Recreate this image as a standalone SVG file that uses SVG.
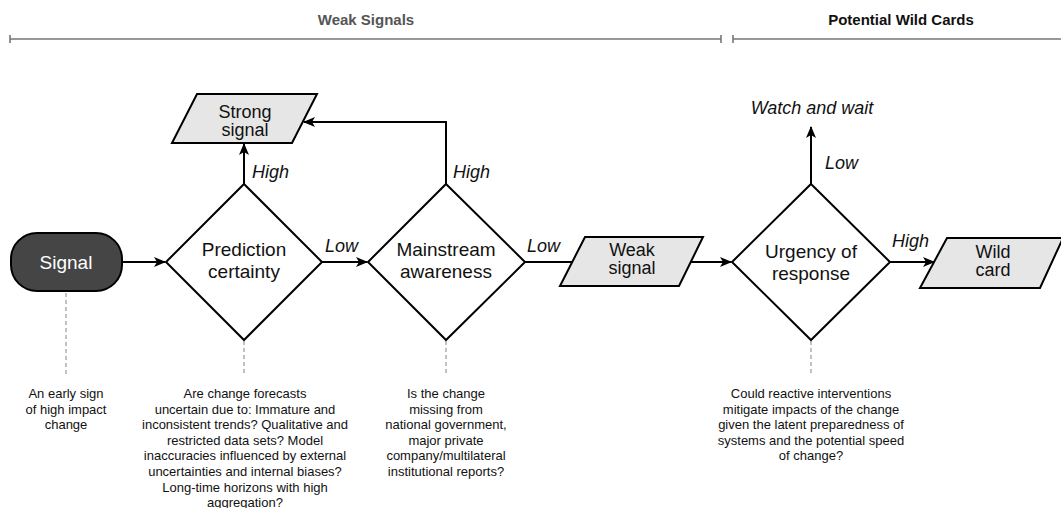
<svg xmlns="http://www.w3.org/2000/svg" width="1061" height="508" viewBox="0 0 1061 508">
<style>
.bg{fill:#fff}
.dia{fill:#fff;stroke:#000;stroke-width:2}
.para{fill:#e6e6e6;stroke:#000;stroke-width:2}
.lbl{font-family:"Liberation Sans",Arial,sans-serif;font-size:19px;fill:#111;text-anchor:middle}
.plbl{font-family:"Liberation Sans",Arial,sans-serif;font-size:18px;fill:#111;text-anchor:middle}
.it{font-family:"Liberation Sans",Arial,sans-serif;font-size:18px;font-style:italic;fill:#111}
.note{font-family:"Liberation Sans",Arial,sans-serif;font-size:13px;fill:#111;text-anchor:middle}
.hdr{font-family:"Liberation Sans",Arial,sans-serif;font-size:15px;font-weight:bold;text-anchor:middle}
.conn{fill:none;stroke:#000;stroke-width:2}
.dash{fill:none;stroke:#999;stroke-width:1.2;stroke-dasharray:4 3}
.bar{fill:none;stroke:#777;stroke-width:1.6}
</style>
<defs>
<marker id="arr" markerUnits="userSpaceOnUse" markerWidth="12" markerHeight="12" viewBox="0 0 12 12" refX="11" refY="6" orient="auto">
<path d="M0,1 L12,6 L0,11 L3,6 z" fill="#000"/>
</marker>
</defs>
<rect class="bg" x="0" y="0" width="1061" height="508"/>

<g id="header">
<text class="hdr" x="366" y="25" fill="#555">Weak Signals</text>
<text class="hdr" x="901" y="25" fill="#111">Potential Wild Cards</text>
<path class="bar" d="M10,39 H721 M10,35 V43 M721,35 V43 M733,39 H1061 M733,35 V43"/>
</g>

<g id="connectors">
<line class="conn" x1="122" y1="262" x2="165" y2="262" marker-end="url(#arr)"/>
<line class="conn" x1="244" y1="184" x2="244" y2="144" marker-end="url(#arr)"/>
<line class="conn" x1="322" y1="262" x2="367" y2="262" marker-end="url(#arr)"/>
<polyline class="conn" points="446,184 446,122 304,122" marker-end="url(#arr)"/>
<line class="conn" x1="525" y1="262" x2="572" y2="262"/>
<line class="conn" x1="691" y1="262" x2="731" y2="262" marker-end="url(#arr)"/>
<line class="conn" x1="811" y1="184" x2="811" y2="127" marker-end="url(#arr)"/>
<line class="conn" x1="890" y1="262" x2="934" y2="262" marker-end="url(#arr)"/>
<line class="dash" x1="66" y1="293" x2="66" y2="376"/>
<line class="dash" x1="244" y1="341" x2="244" y2="376"/>
<line class="dash" x1="446" y1="341" x2="446" y2="376"/>
<line class="dash" x1="811" y1="341" x2="811" y2="376"/>
<text class="it" x="325" y="252">Low</text>
<text class="it" x="527" y="252">Low</text>
<text class="it" x="892" y="247">High</text>
<text class="it" x="825" y="169">Low</text>
<text class="it" x="252" y="178">High</text>
<text class="it" x="453" y="178">High</text>
</g>

<g id="signal">
<rect x="11" y="233" width="111" height="58" rx="26" ry="26" fill="#454545" stroke="#000" stroke-width="2"/>
<text class="lbl" x="66" y="269" style="fill:#fff">Signal</text>
</g>

<g id="prediction-certainty">
<polygon class="dia" points="244,184 322,262 244,340 166,262"/>
<text class="lbl" x="244" y="256">Prediction</text>
<text class="lbl" x="244" y="278">certainty</text>
</g>

<g id="mainstream-awareness">
<polygon class="dia" points="446,184 525,262 446,340 368,262"/>
<text class="lbl" x="446" y="256">Mainstream</text>
<text class="lbl" x="446" y="278">awareness</text>
</g>

<g id="strong-signal">
<polygon class="para" points="197,94 317,94 292,143 172,143"/>
<text class="plbl" x="245" y="118">Strong</text>
<text class="plbl" x="245" y="136">signal</text>
</g>

<g id="weak-signal">
<polygon class="para" points="585,237 703,237 679,286 560,286"/>
<text class="plbl" x="632" y="256">Weak</text>
<text class="plbl" x="632" y="274">signal</text>
</g>

<g id="urgency-of-response">
<polygon class="dia" points="811,184 890,262 811,340 732,262"/>
<text class="lbl" x="811" y="258">Urgency of</text>
<text class="lbl" x="811" y="280">response</text>
</g>

<g id="watch-and-wait">
<text class="it" x="812" y="114" text-anchor="middle">Watch and wait</text>
</g>

<g id="wild-card">
<polygon class="para" points="947,238 1063,238 1040,288 920,288"/>
<text class="plbl" x="993" y="258">Wild</text>
<text class="plbl" x="993" y="276">card</text>
</g>

<g id="note-signal">
<text class="note" x="66" y="398">An early sign</text>
<text class="note" x="66" y="413.6">of high impact</text>
<text class="note" x="66" y="429.2">change</text>
</g>

<g id="note-prediction">
<text class="note" x="245" y="398">Are change forecasts</text>
<text class="note" x="245" y="413.6">uncertain due to: Immature and</text>
<text class="note" x="245" y="429.2">inconsistent trends? Qualitative and</text>
<text class="note" x="245" y="444.8">restricted data sets? Model</text>
<text class="note" x="245" y="460.4">inaccuracies influenced by external</text>
<text class="note" x="245" y="476">uncertainties and internal biases?</text>
<text class="note" x="245" y="491.6">Long-time horizons with high</text>
<text class="note" x="245" y="506.5">aggregation?</text>
</g>

<g id="note-mainstream">
<text class="note" x="446" y="398">Is the change</text>
<text class="note" x="446" y="413.6">missing from</text>
<text class="note" x="446" y="429.2">national government,</text>
<text class="note" x="446" y="444.8">major private</text>
<text class="note" x="446" y="460.4">company/multilateral</text>
<text class="note" x="446" y="476">institutional reports?</text>
</g>

<g id="note-urgency">
<text class="note" x="811" y="398">Could reactive interventions</text>
<text class="note" x="811" y="413.6">mitigate impacts of the change</text>
<text class="note" x="811" y="429.2">given the latent preparedness of</text>
<text class="note" x="811" y="444.8">systems and the potential speed</text>
<text class="note" x="811" y="460.4">of change?</text>
</g>
</svg>
